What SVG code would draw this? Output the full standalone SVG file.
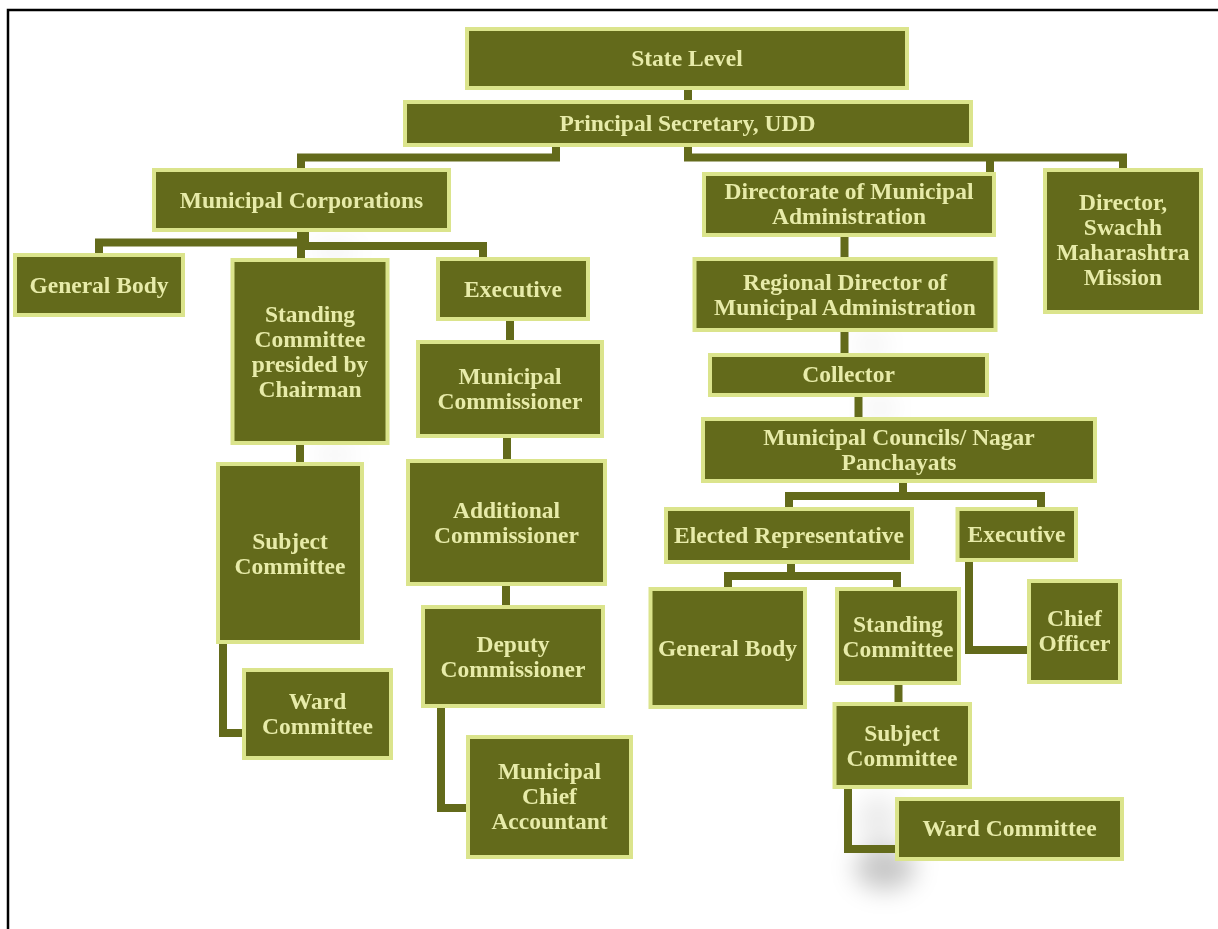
<svg xmlns="http://www.w3.org/2000/svg" width="1218" height="929" viewBox="0 0 1218 929">
<defs>
<style>
.node rect{fill:#636a1b;stroke:#dbe48c;stroke-width:4}
.node text{font-family:"Liberation Serif","Times New Roman",serif;font-weight:bold;font-size:23.5px;fill:#e7eba9;text-anchor:middle}
#connectors path{fill:none;stroke:#636a1b;stroke-width:8;stroke-linejoin:miter;stroke-linecap:butt}
.frame{stroke:#000;stroke-width:2.5;fill:none}
</style>
<filter id="blur" x="-50%" y="-50%" width="200%" height="200%"><feGaussianBlur stdDeviation="12"/></filter>
</defs>
<rect width="1218" height="929" fill="#fff"/>
<path class="frame" d="M8,929 V10 H1218"/>
<g id="shadows" filter="url(#blur)" fill="#000">
<ellipse cx="885" cy="868" rx="30" ry="22" opacity="0.22"/>
<ellipse cx="878" cy="820" rx="20" ry="25" opacity="0.08"/>
<ellipse cx="335" cy="252" rx="22" ry="8" opacity="0.06"/>
<ellipse cx="335" cy="455" rx="20" ry="8" opacity="0.06"/>
<ellipse cx="872" cy="345" rx="16" ry="10" opacity="0.06"/>
<ellipse cx="880" cy="408" rx="16" ry="10" opacity="0.06"/>
</g>
<g id="connectors">
<path d="M688,88 V102"/>
<path d="M556,146 V157.5 H301 V169"/>
<path d="M688,146 V157.5 H1123 V169"/>
<path d="M990,157.5 V173"/>
<path d="M301,231 V242.5 H99 V254"/>
<path d="M301,231 V259"/>
<path d="M305,231 V246 H483 V258"/>
<path d="M300,444 V463"/>
<path d="M223,643 V733 H243"/>
<path d="M510,320 V341"/>
<path d="M507,437 V460"/>
<path d="M506,585 V606"/>
<path d="M441,707 V808 H467"/>
<path d="M844.5,236 V258"/>
<path d="M844.5,331 V354"/>
<path d="M858.5,396 V418"/>
<path d="M903,482 V496 H789 V508"/>
<path d="M903,496 H1041 V508"/>
<path d="M791,563 V576 H728 V588"/>
<path d="M791,576 H897 V588"/>
<path d="M969,561 V650 H1028"/>
<path d="M898.5,684 V703"/>
<path d="M848,788 V849 H896"/>
</g>
<g id="state-level" class="node"><rect x="467" y="29" width="440" height="59"/><text x="687" y="65.5">State Level</text></g>
<g id="principal-secretary" class="node"><rect x="405" y="102" width="566" height="43"/><text x="687.5" y="131">Principal Secretary, UDD</text></g>
<g id="municipal-corporations" class="node"><rect x="154" y="170" width="295" height="60"/><text x="301.5" y="207.5">Municipal Corporations</text></g>
<g id="general-body-mc" class="node"><rect x="15" y="255" width="168" height="60"/><text x="99" y="292.5">General Body</text></g>
<g id="standing-committee-mc" class="node"><rect x="232.5" y="260" width="155" height="183"/><text x="310" y="322">Standing</text><text x="310" y="347">Committee</text><text x="310" y="372">presided by</text><text x="310" y="397">Chairman</text></g>
<g id="executive-mc" class="node"><rect x="438" y="259" width="150" height="60"/><text x="513" y="297">Executive</text></g>
<g id="municipal-commissioner" class="node"><rect x="418" y="342" width="184" height="94"/><text x="510" y="384">Municipal</text><text x="510" y="409">Commissioner</text></g>
<g id="additional-commissioner" class="node"><rect x="408" y="461" width="197" height="123"/><text x="506.5" y="517.5">Additional</text><text x="506.5" y="542.5">Commissioner</text></g>
<g id="deputy-commissioner" class="node"><rect x="423" y="607" width="180" height="99"/><text x="513" y="651.5">Deputy</text><text x="513" y="676.5">Commissioner</text></g>
<g id="municipal-chief-accountant" class="node"><rect x="468" y="737" width="163" height="120"/><text x="549.5" y="779">Municipal</text><text x="549.5" y="804">Chief</text><text x="549.5" y="829">Accountant</text></g>
<g id="subject-committee-mc" class="node"><rect x="218" y="464" width="144" height="178"/><text x="290" y="548.5">Subject</text><text x="290" y="573.5">Committee</text></g>
<g id="ward-committee-mc" class="node"><rect x="244" y="670" width="147" height="88"/><text x="317.5" y="708.5">Ward</text><text x="317.5" y="733.5">Committee</text></g>
<g id="directorate" class="node"><rect x="704" y="174" width="290" height="61"/><text x="849" y="199">Directorate of Municipal</text><text x="849" y="224">Administration</text></g>
<g id="director-swachh" class="node"><rect x="1045" y="170" width="156" height="142"/><text x="1123" y="210">Director,</text><text x="1123" y="235">Swachh</text><text x="1123" y="260">Maharashtra</text><text x="1123" y="285">Mission</text></g>
<g id="regional-director" class="node"><rect x="694.5" y="259" width="301" height="71"/><text x="845" y="290">Regional Director of</text><text x="845" y="315">Municipal Administration</text></g>
<g id="collector" class="node"><rect x="710" y="355" width="277" height="40"/><text x="848.5" y="382">Collector</text></g>
<g id="municipal-councils" class="node"><rect x="703" y="419" width="392" height="62"/><text x="899" y="445">Municipal Councils/ Nagar</text><text x="899" y="470">Panchayats</text></g>
<g id="elected-representative" class="node"><rect x="666" y="509" width="246" height="53"/><text x="789" y="542.5">Elected Representative</text></g>
<g id="executive-mcnp" class="node"><rect x="957.5" y="509" width="118.5" height="51"/><text x="1016.5" y="541.5">Executive</text></g>
<g id="general-body-mcnp" class="node"><rect x="650.5" y="589" width="154.5" height="118"/><text x="727.5" y="655.5">General Body</text></g>
<g id="standing-committee-mcnp" class="node"><rect x="837" y="589" width="122" height="94"/><text x="898" y="631.5">Standing</text><text x="898" y="656.5">Committee</text></g>
<g id="chief-officer" class="node"><rect x="1029" y="581" width="91" height="101"/><text x="1074.5" y="626">Chief</text><text x="1074.5" y="651">Officer</text></g>
<g id="subject-committee-mcnp" class="node"><rect x="834.5" y="704" width="135.5" height="83"/><text x="902" y="741">Subject</text><text x="902" y="766">Committee</text></g>
<g id="ward-committee-mcnp" class="node"><rect x="897" y="799" width="225" height="60"/><text x="1009.5" y="836">Ward Committee</text></g>
</svg>
